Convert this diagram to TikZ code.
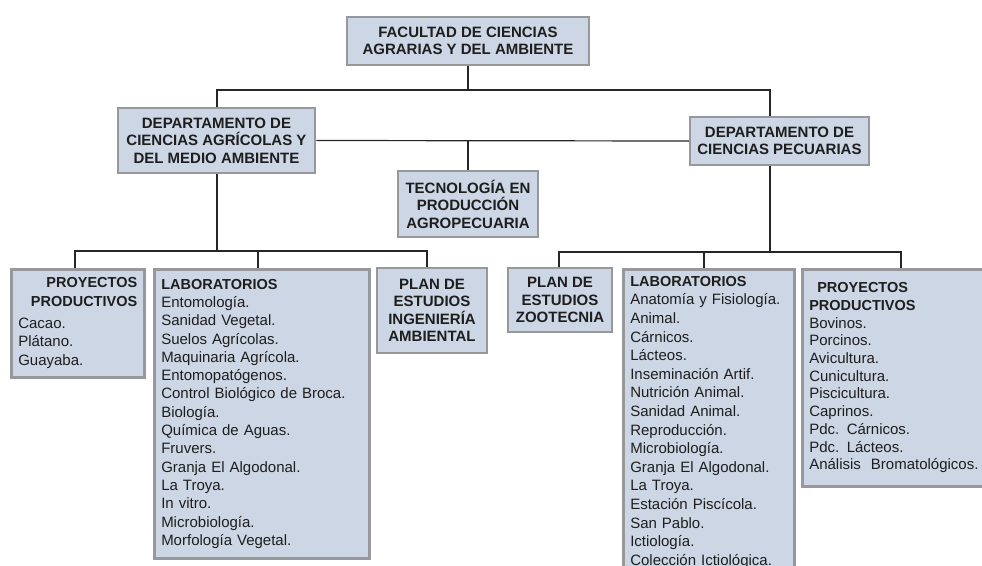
\documentclass[tikz,border=0pt]{standalone}
\usepackage{fontspec}
\setmainfont{Liberation Sans}
\usetikzlibrary{positioning}
\definecolor{boxfill}{RGB}{205,214,228}
\definecolor{boxline}{RGB}{150,152,155}
\definecolor{ink}{RGB}{30,30,30}
\newcommand{\boxhead}[1]{{\fontsize{14.5}{17.7}\selectfont\bfseries #1}}
\newcommand{\midhead}[1]{\hspace*{\fill}\boxhead{#1}\hspace*{\fill}}

\begin{document}
\begin{tikzpicture}[x=1pt, y=1pt,
  office/.style={rectangle, draw=boxline, line width=2.5pt, fill=boxfill,
    inner sep=4pt, align=center, text=ink, font=\fontsize{15}{17.5}\selectfont\bfseries},
  listbox/.style={rectangle, draw=boxline, line width=2.5pt, fill=boxfill,
    inner sep=7pt, anchor=north west, align=left, text=ink, font=\fontsize{15}{17.7}\selectfont},
  link/.style={draw=black!85, line width=1.2pt},
]
\useasboundingbox (0,0) rectangle (982,-565);
\clip (0,0) rectangle (982,-565);

% upper levels
\node[office, minimum width=242, minimum height=48] (fac) at (468,-41) {FACULTAD DE CIENCIAS\\AGRARIAS Y DEL AMBIENTE};
\node[office, minimum width=197, minimum height=65] (depA) at (216.5,-140.5) {DEPARTAMENTO DE\\CIENCIAS AGRÍCOLAS Y\\DEL MEDIO AMBIENTE};
\node[office, minimum width=179, minimum height=48] (depP) at (779.5,-141) {DEPARTAMENTO DE\\CIENCIAS PECUARIAS};
\node[office, minimum width=140, minimum height=66] (tec) at (468,-204) {TECNOLOGÍA EN\\PRODUCCIÓN\\AGROPECUARIA};

% left branch
\node[listbox, minimum width=133, minimum height=108, text width=119,
  font=\fontsize{15}{18.7}\selectfont] (proyA) at (10,-268)
  {\midhead{PROYECTOS}\\\midhead{PRODUCTIVOS}\\[3pt]Cacao.\\Plátano.\\Guayaba.};
\node[listbox, minimum width=215, minimum height=289, text width=201,
  font=\fontsize{15}{18.3}\selectfont] (labA) at (153,-268)
  {\boxhead{LABORATORIOS}\\Entomología.\\Sanidad Vegetal.\\Suelos Agrícolas.\\Maquinaria Agrícola.\\Entomopatógenos.\\Control Biológico de Broca.\\Biología.\\Química de Aguas.\\Fruvers.\\Granja El Algodonal.\\La Troya.\\In vitro.\\Microbiología.\\Morfología Vegetal.};
\node[office, minimum width=110, minimum height=85] (planIA) at (432,-310.5) {PLAN DE\\ESTUDIOS\\INGENIERÍA\\AMBIENTAL};

% right branch
\node[office, minimum width=104, minimum height=64] (planZ) at (560,-300) {PLAN DE\\ESTUDIOS\\ZOOTECNIA};
\node[listbox, minimum width=171, text width=157,
  font=\fontsize{15}{18.6}\selectfont] (labP) at (622,-268)
  {\boxhead{LABORATORIOS}\\Anatomía y Fisiología.\\Animal.\\Cárnicos.\\Lácteos.\\Inseminación Artif.\\Nutrición Animal.\\Sanidad Animal.\\Reproducción.\\Microbiología.\\Granja El Algodonal.\\La Troya.\\Estación Piscícola.\\San Pablo.\\Ictiología.\\Colección Ictiológica.};
\node[listbox, minimum width=189, minimum height=217, text width=175] (proyP) at (801,-268)
  {\boxhead{\hspace*{8pt}PROYECTOS}\\\boxhead{PRODUCTIVOS}\\Bovinos.\\Porcinos.\\Avicultura.\\Cunicultura.\\Piscicultura.\\Caprinos.\\Pdc. Cárnicos.\\Pdc. Lácteos.\\Análisis\ \ Bromatológicos.};

% connectors
\coordinate (busA) at (217,-90);
\coordinate (busB) at (770,-90);
\draw[link] (fac.south) -- (fac.south |- busA);
\draw[link] (depA.north -| busA) -- (busA) -- (busB) -- (depP.north -| busB);
\draw[link] (depA.east) -- (depP.west);
\draw[link] (tec.north |- depA.east) -- (tec.north);

\coordinate (busL) at (75,-251);
\coordinate (busLm) at (258,-251);
\coordinate (busLr) at (427,-251);
\draw[link] (busA |- depA.south) -- (busA |- busL);
\draw[link] (proyA.north -| busL) -- (busL) -- (busLr) -- (planIA.north -| busLr);
\draw[link] (busLm) -- (labA.north -| busLm);

\coordinate (busR) at (559,-252);
\coordinate (busRm) at (704,-252);
\coordinate (busRr) at (901,-252);
\draw[link] (busB |- depP.south) -- (busB |- busR);
\draw[link] (planZ.north -| busR) -- (busR) -- (busRr) -- (proyP.north -| busRr);
\draw[link] (busRm) -- (labP.north -| busRm);

\end{tikzpicture}
\end{document}
